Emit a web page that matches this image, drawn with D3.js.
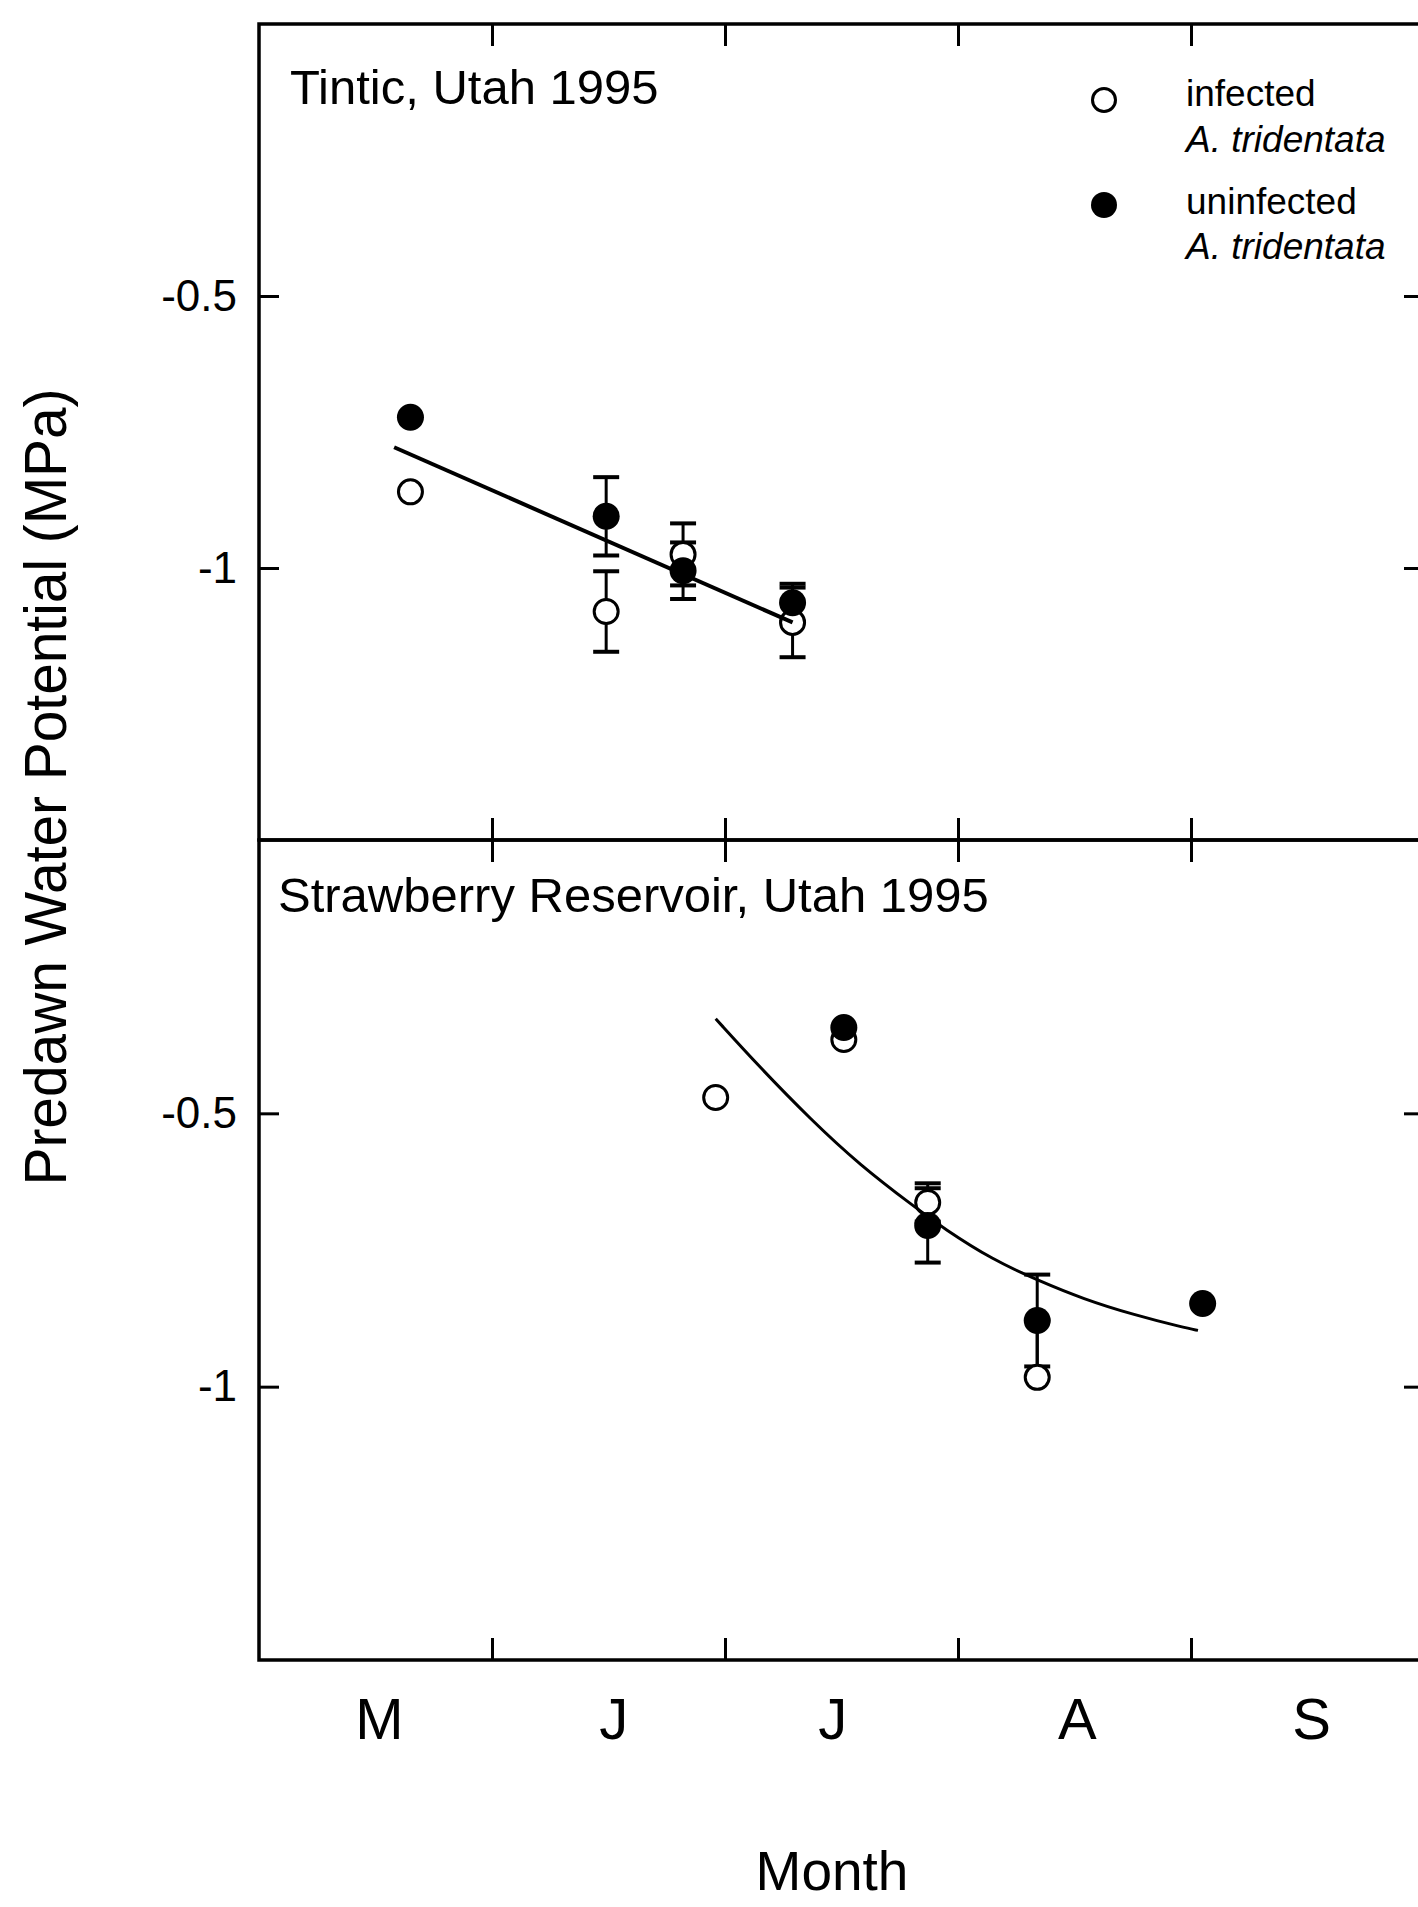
<!DOCTYPE html>
<html>
<head>
<meta charset="utf-8">
<script src="https://cdnjs.cloudflare.com/ajax/libs/d3/7.8.5/d3.min.js"></script>
<style>
  body { margin: 0; background: #fff; }
  svg { display: block; font-family: "Liberation Sans", Arial, Helvetica, sans-serif; }
</style>
</head>
<body>
<script>
// month axis: 5 = 1 May ... 10 = 1 Oct
var monthLabels = ["M", "J", "J", "A", "S"];
var monthCenters = [5.515, 6.52, 7.46, 8.51, 9.515];
var monthTicks = [6, 7, 8, 9];
var yTicks = [-0.5, -1];

// Tintic, Utah 1995
var tinticDates = [5.65, 6.49, 6.82, 7.29];
var tinticInfected = [-0.86, -1.08, -0.975, -1.10];
var tinticInfectedHi = [0, 0.074, 0.057, 0.064];
var tinticInfectedLo = [0, 0.074, 0.057, 0.064];
var tinticUninfected = [-0.723, -0.905, -1.005, -1.064];
var tinticUninfectedHi = [0, 0.072, 0.052, 0.035];
var tinticUninfectedLo = [0, 0.072, 0.052, 0.035];
var tinticFitX = [5.58, 7.29];
var tinticFitY = [-0.778, -1.10];

// Strawberry Reservoir, Utah 1995
var strawDates = [6.96, 7.51, 7.87, 8.34, 9.05];
var strawInfected = [-0.471, -0.365, -0.663, -0.983, null];
var strawInfectedHi = [0, 0, 0.035, 0.104, 0];
var strawInfectedLo = [0, 0, 0.035, 0, 0];
var strawUninfected = [null, -0.343, -0.705, -0.879, -0.848];
var strawUninfectedHi = [0, 0, 0.068, 0.084, 0];
var strawUninfectedLo = [0, 0, 0.068, 0.084, 0];
var strawFitX = [6.96, 7.15, 7.37, 7.58, 7.81, 7.94, 8.15, 8.34, 8.54, 8.75, 8.97, 9.03];
var strawFitY = [-0.327, -0.416, -0.512, -0.595, -0.670, -0.711, -0.768, -0.805, -0.840, -0.868, -0.892, -0.897];

var svgWidth = 1418;
var svgHeight = 1907;

var svg = d3.select("body")
    .append("svg")
    .attr("width", svgWidth)
    .attr("height", svgHeight);

var xScale = d3.scaleLinear()
    .domain([5, 10])
    .range([259, 1424]);

var yTop = d3.scaleLinear().domain([0, -1.5]).range([24, 840]);
var yBottom = d3.scaleLinear().domain([0, -1.5]).range([840, 1660]);

function zip(dates, vals, hi, lo) {
    return dates.map(function (d, i) {
        return { date: d, value: vals[i], hi: hi[i], lo: lo[i] };
    }).filter(function (p) { return p.value != null; });
}

function drawPanel(yScale, title, titlePos, infected, uninfected, fit) {
    var g = svg.append("g");
    var x0 = xScale.range()[0], x1 = xScale.range()[1];
    var yA = yScale.range()[0], yB = yScale.range()[1];

    // frame
    g.append("rect")
        .attr("x", x0).attr("y", yA)
        .attr("width", x1 - x0).attr("height", yB - yA)
        .attr("fill", "none")
        .attr("stroke", "#000")
        .attr("stroke-width", 3.5);

    // inward ticks on all four sides
    var top = g.append("g").attr("transform", `translate(0, ${yA})`)
        .call(d3.axisTop(xScale).tickValues(monthTicks).tickSize(-22).tickFormat(""));
    var bottom = g.append("g").attr("transform", `translate(0, ${yB})`)
        .call(d3.axisBottom(xScale).tickValues(monthTicks).tickSize(-22).tickFormat(""));
    var left = g.append("g").attr("transform", `translate(${x0}, 0)`)
        .call(d3.axisLeft(yScale).tickValues(yTicks).tickSize(-20).tickPadding(22)
            .tickFormat(function (d) { return String(d); }));
    var right = g.append("g").attr("transform", `translate(${x1}, 0)`)
        .call(d3.axisRight(yScale).tickValues(yTicks).tickSize(-20).tickFormat(""));

    [top, bottom, left, right].forEach(function (a) {
        a.select(".domain").remove();
        a.selectAll(".tick line").attr("stroke", "#000").attr("stroke-width", 3);
    });
    left.selectAll("text")
        .attr("fill", "#000")
        .style("font-size", "44px")
        .style("font-family", "'Liberation Sans', Arial, sans-serif");

    // title
    g.append("text")
        .attr("x", titlePos.x)
        .attr("y", titlePos.y)
        .style("font-size", "49px")
        .text(title);

    // error bars
    var pts = infected.concat(uninfected);
    var bars = g.selectAll(".err")
        .data(pts.filter(function (p) { return p.hi > 0 || p.lo > 0; }))
        .enter().append("g");
    bars.append("line")
        .attr("x1", function (d) { return xScale(d.date); })
        .attr("x2", function (d) { return xScale(d.date); })
        .attr("y1", function (d) { return yScale(d.value + d.hi); })
        .attr("y2", function (d) { return yScale(d.value - d.lo); })
        .attr("stroke", "#000").attr("stroke-width", 3);
    bars.filter(function (d) { return d.hi > 0; }).append("line")
        .attr("x1", function (d) { return xScale(d.date) - 13; })
        .attr("x2", function (d) { return xScale(d.date) + 13; })
        .attr("y1", function (d) { return yScale(d.value + d.hi); })
        .attr("y2", function (d) { return yScale(d.value + d.hi); })
        .attr("stroke", "#000").attr("stroke-width", 4);
    bars.filter(function (d) { return d.lo > 0; }).append("line")
        .attr("x1", function (d) { return xScale(d.date) - 13; })
        .attr("x2", function (d) { return xScale(d.date) + 13; })
        .attr("y1", function (d) { return yScale(d.value - d.lo); })
        .attr("y2", function (d) { return yScale(d.value - d.lo); })
        .attr("stroke", "#000").attr("stroke-width", 4);

    // points: open = infected, filled = uninfected
    g.selectAll(".open")
        .data(infected)
        .enter().append("circle")
        .attr("cx", function (d) { return xScale(d.date); })
        .attr("cy", function (d) { return yScale(d.value); })
        .attr("r", 12)
        .attr("fill", "#fff")
        .attr("stroke", "#000")
        .attr("stroke-width", 3);

    g.selectAll(".filled")
        .data(uninfected)
        .enter().append("circle")
        .attr("cx", function (d) { return xScale(d.date); })
        .attr("cy", function (d) { return yScale(d.value); })
        .attr("r", 13.5)
        .attr("fill", "#000");

    // regression line
    var line = d3.line()
        .x(function (d) { return xScale(d[0]); })
        .y(function (d) { return yScale(d[1]); })
        .curve(d3.curveBasis);
    g.append("path")
        .datum(fit)
        .attr("d", line)
        .attr("fill", "none")
        .attr("stroke", "#000")
        .attr("stroke-width", fit.length > 2 ? 3 : 4);
}

drawPanel(yTop, "Tintic, Utah 1995", { x: 290, y: 104 },
    zip(tinticDates, tinticInfected, tinticInfectedHi, tinticInfectedLo),
    zip(tinticDates, tinticUninfected, tinticUninfectedHi, tinticUninfectedLo),
    tinticFitX.map(function (d, i) { return [d, tinticFitY[i]]; }));

drawPanel(yBottom, "Strawberry Reservoir, Utah 1995", { x: 278, y: 912 },
    zip(strawDates, strawInfected, strawInfectedHi, strawInfectedLo),
    zip(strawDates, strawUninfected, strawUninfectedHi, strawUninfectedLo),
    strawFitX.map(function (d, i) { return [d, strawFitY[i]]; }));

// month labels under the bottom axis
var monthAxis = svg.append("g")
    .attr("transform", `translate(0, ${yBottom.range()[1]})`)
    .call(d3.axisBottom(xScale).tickValues(monthCenters).tickSize(0).tickPadding(38)
        .tickFormat(function (d, i) { return monthLabels[i]; }));
monthAxis.select(".domain").remove();
monthAxis.selectAll("text")
    .attr("fill", "#000")
    .style("font-size", "58px")
    .style("font-family", "'Liberation Sans', Arial, sans-serif");

// axis titles
svg.append("text")
    .attr("x", 832)
    .attr("y", 1890)
    .attr("text-anchor", "middle")
    .style("font-size", "55px")
    .text("Month");

svg.append("text")
    .attr("transform", "translate(66, 787) rotate(-90)")
    .attr("text-anchor", "middle")
    .attr("textLength", 797)
    .attr("lengthAdjust", "spacingAndGlyphs")
    .style("font-size", "60px")
    .text("Predawn Water Potential (MPa)");

// legend
var legendItems = [
    { filled: false, y: 100, line1: "infected", y1: 106, y2: 152 },
    { filled: true, y: 205, line1: "uninfected", y1: 214, y2: 259 }
];
var legend = svg.append("g");
legendItems.forEach(function (item) {
    legend.append("circle")
        .attr("cx", 1104)
        .attr("cy", item.y)
        .attr("r", item.filled ? 13 : 11.5)
        .attr("fill", item.filled ? "#000" : "#fff")
        .attr("stroke", "#000")
        .attr("stroke-width", item.filled ? 0 : 3);
    legend.append("text")
        .attr("x", 1186)
        .attr("y", item.y1)
        .style("font-size", "37px")
        .text(item.line1);
    legend.append("text")
        .attr("x", 1186)
        .attr("y", item.y2)
        .style("font-size", "37px")
        .style("font-style", "italic")
        .text("A. tridentata");
});
</script>
</body>
</html>
